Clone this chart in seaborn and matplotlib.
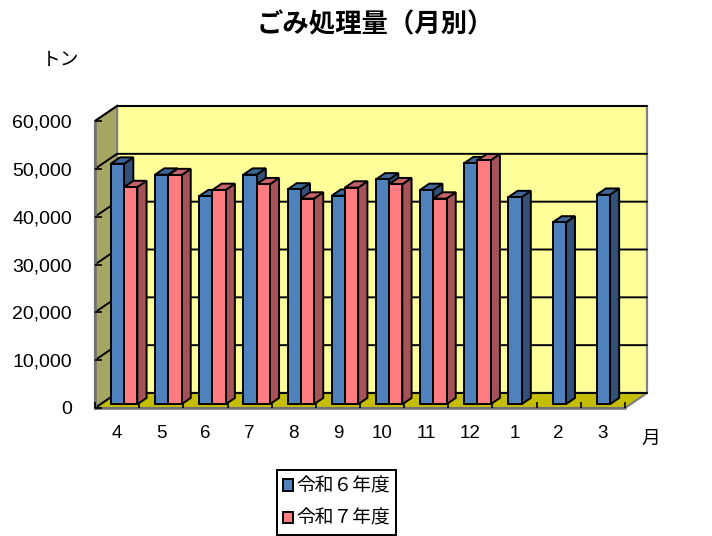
import matplotlib
matplotlib.use("Agg")
import matplotlib.pyplot as plt
from matplotlib.patches import Polygon
from matplotlib.transforms import offset_copy
import numpy as np
import pandas as pd
import seaborn as sns

# Data
months = ["4", "5", "6", "7", "8", "9", "10", "11", "12", "1", "2", "3"]
r6_values = [50300, 48000, 43500, 48000, 44900, 43600, 47000, 44800, 50400, 43300, 38000, 43800]
r7_values = [45400, 47900, 44800, 46000, 43000, 45300, 46000, 43000, 51000, np.nan, np.nan, np.nan]
series_names = ["令和６年度", "令和７年度"]
y_ticks = [0, 10000, 20000, 30000, 40000, 50000, 60000]

FACE = ["#4F81BD", "#FF7C80"]
SIDE = ["#335178", "#A65358"]
TOP = ["#3F6797", "#C5626A"]
LINE = 1.4

df = pd.DataFrame({
    "month": months * 2,
    "tons": r6_values + r7_values,
    "year": [series_names[0]] * 12 + [series_names[1]] * 12,
})

sns.set_theme(style="white")
plt.rcParams["font.family"] = ["Noto Sans CJK JP", "DejaVu Sans"]
plt.rcParams["text.color"] = "black"

fig = plt.figure(figsize=(7.12, 5.36), dpi=100)
# axes is the front plane of the 3D box, in pixels of the reference
ax = fig.add_axes([95 / 712, 1 - 408 / 536, 530 / 712, 287 / 536])

sns.barplot(data=df, x="month", y="tons", hue="year", order=months,
            hue_order=series_names, palette=FACE, width=0.6, gap=0,
            edgecolor="black", linewidth=LINE, saturation=1, errorbar=None, ax=ax)

ax.set_xlim(-0.5, 11.5)
ax.set_ylim(0, 60000)

# depth of the box, 22px right and 15px up, as data units
depth_x = 22 / 530 * 12
depth_y = 15 / 287 * 60000
bar_front = 0.25
bar_back = 0.67
nudge_px = 1.5  # bars sit a little right of the depth line


def skew(x, y, d):
    return (x + d * depth_x, y + d * depth_y)


def face(points, color, zorder, edge="black", lw=LINE):
    ax.add_patch(Polygon(points, closed=True, facecolor=color, edgecolor=edge,
                         linewidth=lw, zorder=zorder, clip_on=False))


x0, x1 = ax.get_xlim()
y0, y1 = ax.get_ylim()

# the bars come from seaborn, keep them before the walls get added
bars = []
for idx, container in enumerate(ax.containers):
    for bar in container:
        if bar.get_height() > 0:
            bars.append((bar, idx))
bars.sort(key=lambda item: item[0].get_x())

# walls and floor
face([skew(x0, y0, 1), skew(x1, y0, 1), skew(x1, y1, 1), skew(x0, y1, 1)],
     "#FFFF99", 0.1, edge="#808080", lw=1.6)
face([skew(x0, y0, 0), skew(x0, y0, 1), skew(x0, y1, 1), skew(x0, y1, 0)],
     "#A6A664", 0.2, edge="#808080", lw=1.6)
face([skew(x0, y0, 0), skew(x1, y0, 0), skew(x1, y0, 1), skew(x0, y0, 1)],
     "#C4BD00", 0.3, edge="#808080", lw=1.6)

# grid lines along the side wall and back wall
for v in y_ticks:
    xs, ys = zip(skew(x0, v, 0), skew(x0, v, 1), skew(x1, v, 1))
    ax.plot(xs, ys, color="black", lw=LINE, zorder=0.4, clip_on=False)

# push the bars back into the box and add the 3D sides
shift = offset_copy(ax.transData, fig, x=bar_front * 22 + nudge_px, y=bar_front * 15, units="dots")
nudge = nudge_px / 530 * 12
for n, (bar, idx) in enumerate(bars):
    left, right = bar.get_x() + nudge, bar.get_x() + bar.get_width() + nudge
    top = bar.get_height()
    z = 3 + n * 0.01
    face([skew(right, 0, bar_front), skew(right, 0, bar_back),
          skew(right, top, bar_back), skew(right, top, bar_front)], SIDE[idx], z)
    face([skew(left, top, bar_front), skew(right, top, bar_front),
          skew(right, top, bar_back), skew(left, top, bar_back)], TOP[idx], z)
    bar.set_transform(shift)
    bar.set_zorder(z + 0.005)

# axes text and ticks
ax.set_xlabel("")
ax.set_ylabel("")
ax.set_yticks(y_ticks)
ax.set_yticklabels([f"{v:,}" for v in y_ticks], family="Liberation Sans", fontsize=14)
ax.set_xticks(range(len(months)))
ax.set_xticklabels(months, family="Liberation Sans", fontsize=13.5)
ax.set_xticks(np.arange(x0, x1 + 1), minor=True)
ax.set_axisbelow(False)
ax.tick_params(axis="y", direction="in", length=5, width=1.2, color="black", pad=16.5,
               left=True, labelcolor="black")
ax.tick_params(axis="x", which="major", length=0, pad=12.5, labelcolor="black")
ax.tick_params(axis="x", which="minor", direction="in", length=4, width=1.2, color="black", bottom=True)
ax.patch.set_visible(False)

for name in ["top", "right"]:
    ax.spines[name].set_visible(False)
ax.spines["left"].set_color("#707070")
ax.spines["left"].set_linewidth(1.8)
ax.spines["bottom"].set_color("#707070")
ax.spines["bottom"].set_linewidth(1.8)

fig.text(375 / 712, 1 - 25 / 536, "ごみ処理量（月別）", ha="center", va="center",
         fontsize=19, fontweight="bold")
fig.text(61 / 712, 1 - 60 / 536, "トン", ha="center", va="center", fontsize=13.5)
fig.text(651 / 712, 1 - 438 / 536, "月", ha="center", va="center", fontsize=13.5)

sns.move_legend(ax, "upper left", bbox_to_anchor=(277 / 712, 1 - 470 / 536),
                bbox_transform=fig.transFigure, title=None, ncol=1, frameon=True,
                fancybox=False, framealpha=1, edgecolor="black", fontsize=13.5,
                handlelength=0.55, handleheight=0.55, handletextpad=0.2,
                labelspacing=0.6, borderpad=0.3, borderaxespad=0)
ax.get_legend().get_frame().set_linewidth(LINE)
ax.get_legend().set_zorder(10)

fig.savefig("out.png", dpi=100)
